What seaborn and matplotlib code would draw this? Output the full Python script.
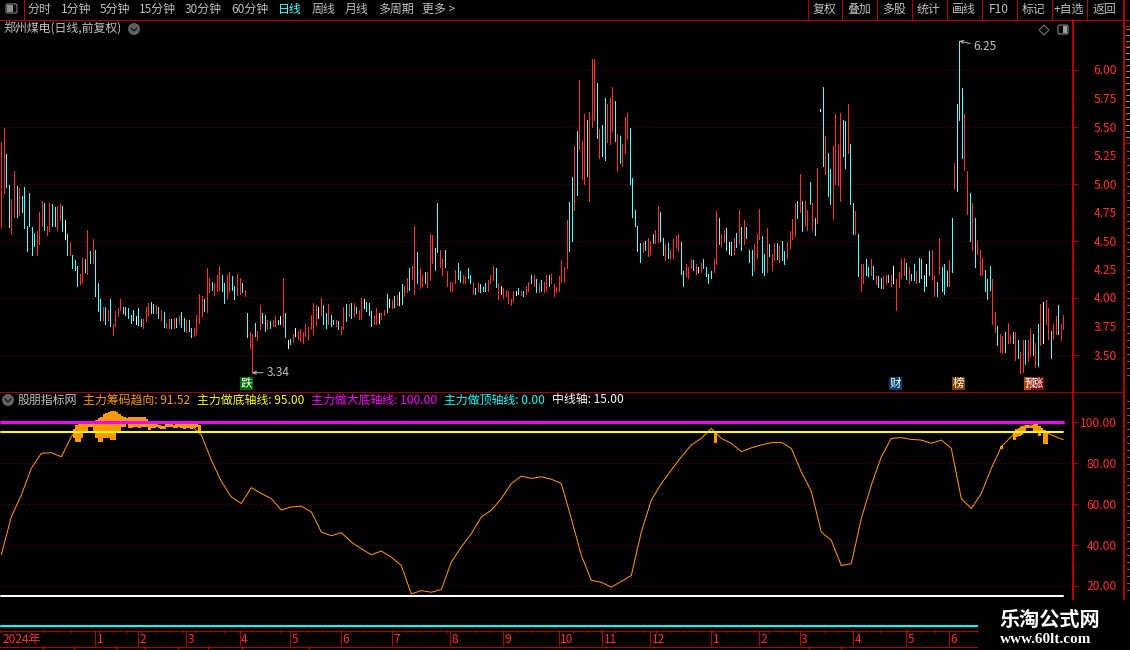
import numpy as np
import pandas as pd
import matplotlib
matplotlib.use("Agg")
import matplotlib.pyplot as plt
from matplotlib.patches import Rectangle, Circle, FancyBboxPatch, Polygon
from matplotlib.ticker import FixedLocator, FormatStrFormatter
import seaborn as sns

# ---------- price bars (high, low, colour class) ----------
high_a = [5.36,5.49,5.26,4.99,4.86,5.11,4.98,4.96,4.89,4.97,
          4.63,4.92,4.62,4.57,4.58,4.75,4.85,4.83,4.63,4.83,
          4.82,4.79,4.80,4.82,4.80,4.68,4.56,4.49,4.37,4.33,
          4.28,4.21,4.35,4.34,4.59,4.41,4.51,4.42,4.13,3.99,
          3.92,3.92,3.89,3.99,3.77,3.88,3.91,3.99,3.92,3.92,
          3.91,3.85,3.89,3.84,3.91,3.81,3.81,3.92,3.95,3.96,
          3.94,3.93,3.92,3.89,3.87,3.78,3.81,3.81,3.82,3.82,
          3.84,3.87,3.82,3.80,3.80,3.73,3.73,3.85,4.03,4.01,
          3.99,4.26,4.17,4.14,4.13,4.20,4.28,4.20,4.13,4.20,
          4.22,4.19,4.10,4.21,4.17,4.13,4.07,3.86,3.70,3.68,
          3.78,3.71,3.93,3.86,3.85,3.80,3.79,3.80,3.84,3.80,
          3.84,4.17,3.86,3.63,3.64,3.68,3.73,3.71]
low_a = [4.62,4.92,4.97,4.62,4.56,4.71,4.71,4.72,4.75,4.61,
         4.41,4.63,4.37,4.45,4.37,4.47,4.63,4.59,4.55,4.58,
         4.63,4.63,4.59,4.68,4.58,4.51,4.37,4.37,4.26,4.24,
         4.10,4.12,4.14,4.22,4.21,4.30,4.30,4.01,3.88,3.80,
         3.80,3.77,3.80,3.75,3.67,3.75,3.84,3.89,3.86,3.85,
         3.82,3.78,3.80,3.77,3.76,3.75,3.73,3.79,3.84,3.86,
         3.86,3.86,3.82,3.80,3.74,3.73,3.73,3.73,3.73,3.74,
         3.77,3.74,3.71,3.70,3.71,3.65,3.66,3.68,3.78,3.84,
         3.88,3.87,4.05,4.07,4.02,4.06,4.07,4.06,3.95,4.00,
         4.05,4.07,3.99,4.02,4.03,4.05,4.01,3.65,3.56,3.34,
         3.66,3.63,3.72,3.78,3.71,3.72,3.73,3.75,3.75,3.77,
         3.77,3.75,3.65,3.56,3.59,3.61,3.66,3.64]
kind_a = ("rrccrrcrcc" "ccccrrrcrr" "ccrrcwcrcc" "crrcrcrccc" "rcrcrrrrcc"
          "cccwccrrrc" "crcrcrrcrc" "rccrccrrrr" "crrcrrrccr" "rccrrcrcrr"
          "crrccrcrrc" "wrcwcrwr")

high_b = [3.72,3.70,3.77,3.74,3.85,3.95,3.93,3.92,4.00,3.93,
          3.86,3.94,3.85,3.80,3.80,3.79,3.75,3.92,3.94,3.94,
          3.95,3.95,3.92,3.89,4.00,3.99,3.96,3.95,3.88,3.85,
          3.91,3.86,3.86,3.89,4.03,3.99,3.98,4.01,4.02,4.05,
          4.12,4.10,4.17,4.26,4.28,4.63,4.40,4.26,4.20,4.22,
          4.22,4.56,4.55,4.43,4.83,4.42,4.35,4.42,4.23,4.14,
          4.14,4.24,4.30,4.23,4.20,4.19,4.26,4.20,4.14,4.08,
          4.13,4.12,4.09,4.13,4.15,4.20,4.28,4.26,4.13,4.10,
          4.08,4.07,4.06,3.99,4.06,4.06,4.08,4.06,4.06,4.10,
          4.14,4.20,4.20,4.16,4.13,4.15,4.14,4.20,4.20,4.21,
          4.12,4.09,4.19,4.33,4.27,4.68,4.84,5.06,5.33,5.46,
          5.91,5.37,5.61,5.56,5.63,6.09,6.09,5.88,5.48,5.51,
          5.75,5.70,5.75,5.85,5.72,5.43,5.42,5.35,5.58,5.62,
          5.49,5.05,4.77,4.63,4.48,4.49,4.50,4.52,4.50,4.56,
          4.59,4.80,4.75,4.52,4.47,4.48,4.42,4.51,4.54,4.56]
low_b = [3.62,3.60,3.66,3.64,3.72,3.68,3.76,3.82,3.85,3.77,
         3.73,3.77,3.75,3.77,3.75,3.72,3.68,3.72,3.79,3.84,
         3.82,3.84,3.86,3.81,3.82,3.91,3.88,3.85,3.75,3.77,
         3.77,3.78,3.81,3.85,3.87,3.92,3.91,3.92,3.93,3.93,
         3.94,4.01,4.05,4.07,4.16,4.03,4.13,4.08,4.10,4.13,
         4.09,4.15,4.30,4.24,4.40,4.27,4.20,4.27,4.10,4.06,
         4.06,4.13,4.16,4.14,4.13,4.13,4.17,4.13,4.03,4.03,
         4.06,4.05,4.06,4.06,4.06,4.13,4.15,4.09,3.99,4.03,
         4.00,4.01,3.95,3.93,3.97,4.02,4.03,4.02,4.01,4.03,
         4.06,4.13,4.10,4.05,4.05,4.06,4.05,4.07,4.10,4.13,
         4.01,4.05,4.06,4.14,4.14,4.26,4.41,4.50,4.77,4.90,
         5.30,5.04,5.00,5.07,4.85,5.50,5.56,5.40,5.22,5.24,
         5.21,5.36,5.35,5.46,5.37,5.11,5.18,5.15,5.27,5.39,
         5.00,4.71,4.63,4.41,4.31,4.40,4.42,4.36,4.38,4.48,
         4.48,4.49,4.50,4.37,4.33,4.35,4.34,4.35,4.43,4.41]
kind_b = ("rrrrrrrwrc" "crcc" "rcrrcr" "crcrrwcc" "crrwrr" "cwrcrwcrrc"
          "rrcrrcrrrc" "crrc" "rrrrccrrcc" "rcrcccrrrcrwr" "rrrrwcrcrr"
          "crcrcrrcrrrrrrrcc" "rcrrrcrrrcrccrrrcrcrrrcccccrcrrcrrccrcrrrr")

high_c = [4.49,4.23,4.29,4.27,4.34,4.33,4.29,4.27,4.30,4.34,
          4.27,4.21,4.23,4.34,4.76,4.70,4.56,4.59,4.61,4.49,
          4.49,4.52,4.57,4.77,4.62,4.68,4.62,4.42,4.42,4.47,
          4.56,4.78,4.54,4.38,4.61,4.47,4.38,4.48,4.48,4.45,
          4.50,4.41,4.49,4.58,4.69,4.83,4.85,5.08,4.85,4.85,
          4.77,5.01,4.83,4.70,5.14,5.65,5.85,5.42,5.27,5.13,
          5.33,5.61,5.35,5.62,5.56,5.55,5.70,5.35,4.83,4.76,
          4.56,4.29,4.29,4.34,4.27,4.34,4.28,4.20,4.19,4.17,
          4.19,4.20,4.20,4.20,4.28,4.16,4.22,4.34,4.35,4.30,
          4.27,4.21,4.29,4.23,4.35,4.34,4.20,4.29,4.41,4.42,
          4.20,4.14,4.52,4.27,4.29,4.23,4.33,4.70,5.18,5.70,
          6.25,5.84,5.61,5.11,4.92,4.83,4.70,4.50,4.42,4.35,
          4.24,4.16,4.28,4.16,3.87,3.75,3.68,3.66,3.70,3.78,
          3.67,3.70,3.70,3.63,3.52,3.63,3.63,3.63,3.72,3.68,
          3.60,3.77,3.94,3.96,3.98,3.91,3.71,3.77,3.84,3.93,
          3.77,3.85]
low_c = [4.21,4.10,4.19,4.17,4.26,4.24,4.21,4.22,4.22,4.26,
         4.19,4.13,4.17,4.22,4.29,4.47,4.45,4.49,4.42,4.38,
         4.37,4.38,4.44,4.48,4.42,4.47,4.52,4.31,4.20,4.24,
         4.35,4.51,4.22,4.20,4.22,4.36,4.24,4.33,4.34,4.31,
         4.33,4.29,4.35,4.43,4.51,4.54,4.70,4.75,4.58,4.64,
         4.59,4.82,4.59,4.55,4.65,5.64,5.15,5.08,4.89,4.82,
         4.69,5.00,4.99,4.85,5.24,5.14,5.27,4.82,4.56,4.56,
         4.19,4.06,4.13,4.20,4.19,4.20,4.16,4.12,4.09,4.08,
         4.08,4.12,4.14,4.10,4.13,3.89,4.09,4.17,4.20,4.16,
         4.13,4.15,4.15,4.13,4.14,4.17,4.06,4.10,4.20,4.16,
         4.01,4.01,4.21,4.06,4.03,4.10,4.10,4.22,4.96,4.93,
         5.56,5.22,5.12,4.73,4.50,4.42,4.27,4.38,4.20,4.20,
         4.06,3.99,4.07,3.77,3.70,3.58,3.52,3.51,3.52,3.60,
         3.61,3.60,3.45,3.47,3.34,3.35,3.42,3.44,3.49,3.50,
         3.39,3.40,3.58,3.60,3.77,3.64,3.47,3.64,3.68,3.68,
         3.63,3.72]
kind_c = ("ccrrrcrwrc" "cccrrcrrcw" "crcrcrcccr" "rrccrcrrcr" "ccrrrrcrcr"
          "rcrcrwcrcc" "rrrrccrcc"  "r" "crrcc" "rcrccrrcr" "wrrrrcrcc"
          "rcccwcrrcrcccrcr" "cccrrcrcrrrcccrrcrrc" "rrcrcrrcrrcrcrwrrcrrcrr" )

high = np.array(high_a + high_b + high_c)
low = np.array(low_a + low_b + low_c)
kinds_raw = kind_a + kind_b + kind_c
n_bars = len(high)
kinds = (kinds_raw + "r" * n_bars)[:n_bars]

# ---------- indicator ----------
trend_vals = [35.1,53.6,64.3,77.4,84.8,85.1,83.1,93.0,98.0,98.5,99.0,100.0,99.0,100.0,100.0,98.5,
              97.7,98.5,98.5,98.5,93.8,81.5,71.1,63.4,60.2,68.0,65.1,62.6,57.0,58.5,58.9,56.1,
              46.2,44.4,45.9,41.3,
              38.0,35.1,36.9,33.9,29.8,15.9,17.5,16.7,18.0,31.5,38.9,45.4,53.6,56.9,62.6,70.0,
              73.6,72.5,73.3,72.1,70.0,52.8,34.8,22.5,21.6,19.2,22.0,24.9,46.2,61.8,70.0,76.6,
              83.1,88.9,92.1,97.0,
              92.1,89.7,85.6,87.5,88.9,90.0,90.2,87.2,75.7,66.2,46.2,42.1,29.8,30.7,52.8,69.2,
              83.1,92.1,92.5,91.6,91.3,89.7,91.3,87.2,62.6,57.7,65.1,77.4,88.0,93.0,97.9,98.7,
              96.2,93.8,91.8,91.52]
orange_slots = list(range(29, 80)) + [285.5, 400] + list(range(405, 419))
orange_top = [96.7,98.7,99,99,99,99,99,99.5,100.3,101.1,102,102.8,103.9,104.4,104.9,105.6,105.6,
              104.9,103.9,103.3,102.8,102.3,102.5,102.5,102.5,102.5,102.5,102.5,102.5,101.6,99.5,
              99.5,99.5,99.2,98.7,98.4,98.4,99,99,99,98.7,99.5,99,99,99.5,99,99,99.5,99,99.5,98.7,
              94.6,88.5,
              95.7,96.7,97.4,97.9,98.4,98.7,98.4,98.4,99,99,98.4,97,96.2,95.7]
orange_bot = [93,91,91,93,95.7,95.7,98.2,98.2,95.4,93,91,91,93,93,93,91.6,91.6,96.2,96.2,98.4,
              98.4,99.5,97.9,97.9,98.4,98.4,97.9,98.4,98.4,98.4,96.9,97.9,97.9,98.4,97.7,97.4,
              97.4,98,98,98,97.7,97.7,98,97.7,97.4,97.7,97.7,97.4,97.7,98,95.1,
              90.5,87.2,
              91.8,93.4,93.8,94.1,95.1,97.7,97.7,97.7,95.7,95.7,93.8,95.7,90,90]
bottom_axis = 95
big_bottom_axis = 100
top_axis = 0
mid_axis = 15

price_ticks_major = [3.5, 4.0, 4.5, 5.0, 5.5, 6.0]
price_ticks_minor = [3.75, 4.25, 4.75, 5.25, 5.75]
ind_ticks_major = [20, 40, 60, 80, 100]
ind_ticks_minor = [30, 50, 70, 90]
month_bars = [37, 54, 73, 94, 114, 134, 154, 177, 198, 220, 237, 256, 280, 299, 315, 336, 357, 374]
month_labels = ["1","2","3","4","5","6","7","8","9","10","11","12","1","2","3","4","5","6"]

toolbar_left = [("分时",28,"#c0c0c0"),("1分钟",61,"#c0c0c0"),("5分钟",100,"#c0c0c0"),("15分钟",139,"#c0c0c0"),
                ("30分钟",185,"#c0c0c0"),("60分钟",231,"#c0c0c0"),("日线",278,"#55ffff"),("周线",312,"#c0c0c0"),
                ("月线",345,"#c0c0c0"),("多周期",378,"#c0c0c0"),("更多 >",422,"#c0c0c0")]
toolbar_right = ["复权","叠加","多股","统计","画线","F10","标记","+自选","返回"]

# ---------- theme ----------
RED = "#ff3232"; CYAN = "#55ffff"; AXRED = "#b00000"; GRID = "#8b0000"; GREY = "#c0c0c0"; ORANGE = "#ff9900"
sns.set_theme(style="dark", rc={"figure.facecolor": "black", "axes.facecolor": "black",
                                "savefig.facecolor": "black", "text.color": GREY})
plt.rcParams["font.family"] = ["Noto Sans CJK SC", "DejaVu Sans"]
plt.rcParams["axes.unicode_minus"] = False

W, H = 1130, 650
FS = 8.6
PX = 72 / 100.0
fig = plt.figure(figsize=(W / 100, H / 100), dpi=100)

def rect(l, t, r, b):
    return [l / W, 1 - b / H, (r - l) / W, (b - t) / H]

BAR_PX = 1062 / (n_bars - 1)
X0 = 1.3
def xlim_for(pxl, pxr):
    return ((pxl - X0) / BAR_PX, (pxr - X0) / BAR_PX)

def style_right(ax, major, minor):
    for s in ax.spines.values():
        s.set_visible(False)
    ax.yaxis.tick_right()
    ax.yaxis.set_major_locator(FixedLocator(major))
    ax.yaxis.set_minor_locator(FixedLocator(minor))
    ax.yaxis.set_major_formatter(FormatStrFormatter("%.2f"))
    ax.yaxis.set_minor_formatter(FormatStrFormatter("%.2f"))
    ax.tick_params(axis="y", which="major", length=6 * PX, width=1 * PX, color=AXRED,
                   labelcolor=RED, labelsize=FS, pad=39 * PX, left=False, right=True)
    ax.tick_params(axis="y", which="minor", length=3 * PX, width=1 * PX, color=AXRED,
                   labelcolor=RED, labelsize=FS, pad=42 * PX, left=False, right=True)
    ax.set_xticks([])
    ax.set_xlabel(""); ax.set_ylabel("")
    ax.grid(True, axis="y", which="major", color=GRID, linestyle=(0, (1, 3)), linewidth=1 * PX)
    ax.grid(False, axis="x")
    ax.set_axisbelow(True)
    for t in ax.yaxis.get_major_ticks() + ax.yaxis.get_minor_ticks():
        t.label2.set_ha("right")

# ---------- price panel ----------
ax1 = fig.add_axes(rect(0, 22, 1072, 391))
bars = pd.DataFrame({"day": np.arange(n_bars), "high": high, "low": low, "kind": list(kinds)})
colors = {"r": RED, "c": CYAN, "w": "#ffffff"}
for k, g in bars.groupby("kind"):
    ax1.vlines(g["day"], g["low"], g["high"], color=colors[k], linewidth=1 * PX, antialiased=False)
ax1.set_xlim(*xlim_for(0, 1072))
ax1.set_ylim(3.5 - (391 - 354.5) / 114, 6 + (69.5 - 22) / 114)
style_right(ax1, price_ticks_major, price_ticks_minor)

i_hi = int(np.argmax(high)); i_lo = int(np.argmin(low))
ax1.annotate(f"{high[i_hi]:.2f}", xy=(i_hi, high[i_hi]), xytext=(14 * PX, -6 * PX), textcoords="offset points",
             color=GREY, fontsize=FS, va="center", ha="left",
             arrowprops=dict(arrowstyle="->,head_width=0.12,head_length=0.25", color=GREY, lw=0.7, shrinkA=0, shrinkB=0))
ax1.annotate(f"{low[i_lo]:.2f}", xy=(i_lo, low[i_lo]), xytext=(14 * PX, 0), textcoords="offset points",
             color=GREY, fontsize=FS, va="center", ha="left",
             arrowprops=dict(arrowstyle="->,head_width=0.12,head_length=0.25", color=GREY, lw=0.7, shrinkA=0, shrinkB=0))

# ---------- indicator panel ----------
ax2 = fig.add_axes(rect(0, 392, 1072, 630))
line_x = np.r_[np.arange(len(trend_vals) - 1) * 10.0, 1062.0] / BAR_PX
orange_x = np.array(orange_slots) * 2.5 / BAR_PX
ax2.vlines(orange_x, orange_bot, orange_top, color=ORANGE, linewidth=2.7 * PX, antialiased=False, zorder=3)
sns.lineplot(x=line_x, y=trend_vals, ax=ax2, color=ORANGE, linewidth=1 * PX, errorbar=None, legend=False, zorder=2)
ends = np.array([0, n_bars - 1])
for val, col, lw in [(big_bottom_axis, "#ff00ff", 3), (bottom_axis, "#ffff00", 2),
                     (mid_axis, "#ffffff", 2), (top_axis, "#00ffff", 2)]:
    sns.lineplot(x=ends, y=[val, val], ax=ax2, color=col, linewidth=lw * PX, errorbar=None, legend=False, zorder=4)
ax2.set_xlim(*xlim_for(0, 1072))
ax2.set_ylim(100 - (630 - 422.3) / 2.04, 100 + (422.3 - 392) / 2.04)
style_right(ax2, ind_ticks_major, ind_ticks_minor)
ax2.yaxis.set_minor_formatter(plt.NullFormatter())

# ---------- time strip ----------
ax3 = fig.add_axes(rect(0, 630, 978, 646))
ax3.set_xlim(*xlim_for(0, 978)); ax3.set_ylim(0, 1)
ax3.axis("off")
ax3.vlines(month_bars, 0, 1, color=AXRED, linewidth=1 * PX, antialiased=False)
weeks = np.arange(0, 386, 5.5)
ax3.vlines(weeks, 0.85, 1, color=AXRED, linewidth=1 * PX, antialiased=False)
for d, lab in zip(month_bars, month_labels):
    ax3.annotate(lab, xy=(d, 0.42), xytext=(1.5 * PX, 0), textcoords="offset points", color=RED,
                 fontsize=FS, va="center", ha="left")
ax3.annotate("2024年", xy=(0, 0.42), xytext=(1 * PX, 0), textcoords="offset points", color=RED,
             fontsize=FS, va="center", ha="left")

# ---------- chrome overlay in pixel space ----------
ov = fig.add_axes([0, 0, 1, 1], facecolor="none")
ov.set_xlim(0, W); ov.set_ylim(H, 0); ov.axis("off")

def hl(y, x0, x1, c=AXRED, lw=1):
    ov.plot([x0, x1], [y, y], color=c, lw=lw * PX, antialiased=False, solid_capstyle="butt")
def vl(x, y0, y1, c=AXRED, lw=1):
    ov.plot([x, x], [y0, y1], color=c, lw=lw * PX, antialiased=False, solid_capstyle="butt")

hl(19.5, 0, W); hl(391.5, 0, 1123, c="#900000")
hl(630.5, 0, 978); hl(646.5, 0, 978)
vl(1072.5, 19, 600, lw=2); vl(1123.5, 0, 600, lw=2)
vl(23.5, 0, 19)
for x in [42, 73, 115, 144, 177, 207, 241, 308, 808, 840]:
    vl(x + .5, 646, 650)
for y in [25, 45, 142]:
    hl(y + .5, 1123, 1130)
for y in range(28, 140, 6):
    hl(y + .5, 1126, 1130, c="#888888")
for y in range(150, 380, 7):
    hl(y + .5, 1127, 1130, c="#666666")
for y in range(400, 595, 7):
    hl(y + .5, 1127, 1130, c="#666666")

for s, x, c in toolbar_left:
    ov.text(x, 9.5, s, color=c, fontsize=FS, va="center", ha="left")
seps = [807.3, 841.3, 876.3, 911.3, 946.3, 981.3, 1016.3, 1051.3, 1086.3, 1123.3]
for x in seps:
    vl(int(x) + .5, 0, 19)
for i, s in enumerate(toolbar_right):
    ov.text((seps[i] + seps[i + 1]) / 2, 9.5, s, color=GREY, fontsize=FS, va="center", ha="center")

# small icons
ov.add_patch(FancyBboxPatch((6, 4), 11, 9, boxstyle="round,pad=0,rounding_size=1.5", fc="#000000", ec="#909090", lw=1 * PX))
ov.add_patch(Rectangle((7, 5), 6, 7, fc="#909090", ec="none"))
ov.add_patch(FancyBboxPatch((1058, 25), 10, 9, boxstyle="round,pad=0,rounding_size=1.5", fc="#000000", ec="#909090", lw=1 * PX))
ov.add_patch(Rectangle((1063, 26), 4, 7, fc="#a0a0a0", ec="none"))
ov.add_patch(Polygon([(1044, 25), (1049, 30), (1044, 35), (1039, 30)], closed=True, fc="none", ec="#808080", lw=1 * PX))

def chevron(cx, cy):
    ov.add_patch(Circle((cx, cy), 6, fc="#606060", ec="none"))
    ov.plot([cx - 3, cx, cx + 3], [cy - 1, cy + 2, cy - 1], color="#000000", lw=1 * PX)

ov.text(3, 29, "郑州煤电(日线,前复权)", color=GREY, fontsize=FS, va="center", ha="left")
chevron(134, 29)
chevron(8, 400)

for s, x, c in [("股朋指标网", 18, GREY), ("主力筹码趋向: 91.52", 83, ORANGE), ("主力做底轴线: 95.00", 197, "#ffff00"),
                ("主力做大底轴线: 100.00", 311, "#ff00ff"), ("主力做顶轴线: 0.00", 444, "#00ffff"),
                ("中线轴: 15.00", 552, "#ffffff")]:
    ov.text(x, 400, s, color=c, fontsize=FS, va="center", ha="left")

for ch, x, bg in [("跌", 240, "#006a00"), ("财", 889, "#0c3c6c"), ("榜", 952, "#804000"),
                  ("预", 1024, "#b04a10"), ("涨", 1031, "#800000")]:
    ov.add_patch(Rectangle((x, 377), 13, 13, fc=bg, ec="none"))
    ov.text(x + 6.5, 383.5, ch, color="white", fontsize=8.3, va="center", ha="center")

# watermark block
ov.add_patch(Rectangle((978, 600), W - 978, 50, fc="black", ec="none", zorder=5))
ov.text(1050, 619, "乐淘公式网", color="white", fontsize=14.5, fontweight="bold", va="center", ha="center", zorder=6)
ov.text(1046, 639.5, "www.60lt.com", color="white", fontsize=11, fontweight="bold", family=["Liberation Serif"],
        va="center", ha="center", zorder=6)

fig.savefig("out.png", dpi=100, facecolor="black")
